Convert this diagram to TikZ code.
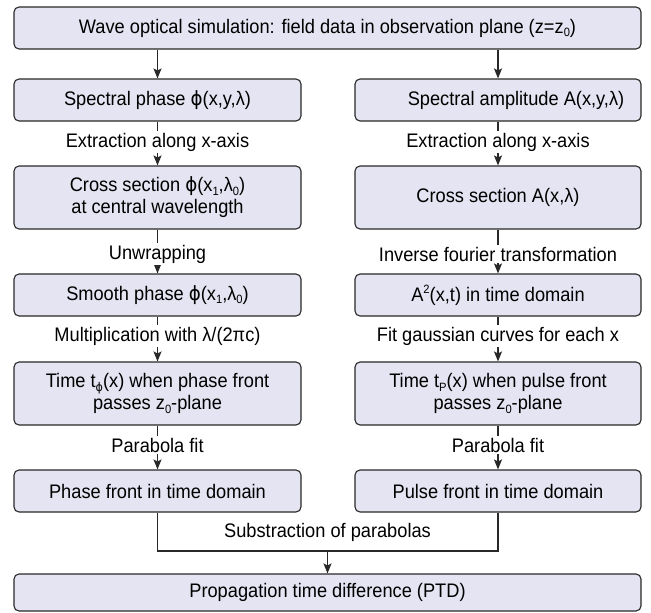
\documentclass[tikz,border=0pt]{standalone}
\usepackage{fontspec}
\setmainfont{Liberation Sans}[FakeStretch=0.93]
\newfontfamily\djv{DejaVu Sans}[FakeStretch=0.93]
\usetikzlibrary{arrows.meta}
\definecolor{boxfill}{RGB}{228,228,242}
\definecolor{boxline}{RGB}{40,40,40}
\newcommand{\vphi}{{\djv ϕ}}
\newcommand{\fs}{\fontsize{19.6}{22}\selectfont}
\newcommand{\sbs}[1]{\raisebox{-3.5pt}{\fontsize{12}{12}\selectfont #1}}
\newcommand{\sps}[1]{\raisebox{8pt}{\fontsize{12}{12}\selectfont #1}}
\begin{document}
\begin{tikzpicture}[x=1pt,y=-1pt,
 box/.style={draw=boxline, fill=boxfill, rounded corners=5pt, line width=1.1pt, inner sep=0pt, align=center, font=\fs},
 lbl/.style={fill=white, inner sep=1.5pt, font=\fs},
 arr/.style={draw=boxline, line width=1.5pt, -{Stealth[length=10pt,width=8pt,inset=2pt]}},
 con/.style={draw=boxline, line width=1.5pt}]
\useasboundingbox (0,0) rectangle (651,613);

% top
\node[box, minimum width=627pt, minimum height=42pt] (top) at (327.5,28) {Wave optical simulation: field data in observation plane (z=z\sbs{0})};

% left column
\node[box, minimum width=287pt, minimum height=42pt] (l1) at (157.5,100) {Spectral phase \vphi(x,y,λ)};
\node[box, minimum width=287pt, minimum height=63pt] (l2) at (157.5,197.5) {Cross section \vphi(x\sbs{1},λ\sbs{0})\\at central wavelength};
\node[box, minimum width=287pt, minimum height=42pt] (l3) at (157.5,295) {Smooth phase \vphi(x\sbs{1},λ\sbs{0})};
\node[box, minimum width=287pt, minimum height=63pt] (l4) at (157.5,393.5) {Time t\sbs{\vphi}(x) when phase front\\passes z\sbs{0}-plane};
\node[box, minimum width=287pt, minimum height=42pt] (l5) at (157.5,491) {Phase front in time domain};

% right column
\node[box, minimum width=286pt, minimum height=42pt] (r1) at (498,100) {\hspace*{36pt}Spectral amplitude A(x,y,λ)};
\node[box, minimum width=286pt, minimum height=63pt] (r2) at (498,197.5) {Cross section A(x,λ)};
\node[box, minimum width=286pt, minimum height=42pt] (r3) at (498,295) {A\sps{2}(x,t) in time domain};
\node[box, minimum width=286pt, minimum height=63pt] (r4) at (498,393.5) {Time t\sbs{P}(x) when pulse front\\passes z\sbs{0}-plane};
\node[box, minimum width=286pt, minimum height=42pt] (r5) at (498,491) {Pulse front in time domain};

% bottom
\node[box, minimum width=627pt, minimum height=37pt] (ptd) at (327.5,592.5) {Propagation time difference (PTD)};

% connectors
\draw[arr] (top.south -| l1.north) -- (l1.north);
\draw[arr] (top.south -| r1.north) -- (r1.north);
\draw[arr] (l1) -- (l2);
\draw[arr] (l2) -- (l3);
\draw[arr] (l3) -- (l4);
\draw[arr] (l4) -- (l5);
\draw[arr] (r1) -- (r2);
\draw[arr] (r2) -- (r3);
\draw[arr] (r3) -- (r4);
\draw[arr] (r4) -- (r5);
\coordinate (j) at (327.5,551);
\draw[con] (l5.south) |- (j) -| (r5.south);
\draw[arr] (j) -- (ptd.north);

% labels
\node[lbl] (e1) at (157.5,142) {Extraction along x-axis};
\node[lbl] (u1) at (157.5,254) {Unwrapping};
\node[lbl] (m1) at (157.5,336) {Multiplication with λ/(2πc)};
\node[lbl] (p1) at (157.5,445) {Parabola fit};
\node[lbl] (e2) at (498,142) {Extraction along x-axis};
\node[lbl] (u2) at (498,254) {Inverse fourier transformation};
\node[lbl] (m2) at (498,336) {Fit gaussian curves for each x};
\node[lbl] (p2) at (498,445) {Parabola fit};
\node[font=\fs] (sub) at (327.5,532) {Substraction of parabolas};
\end{tikzpicture}
\end{document}
